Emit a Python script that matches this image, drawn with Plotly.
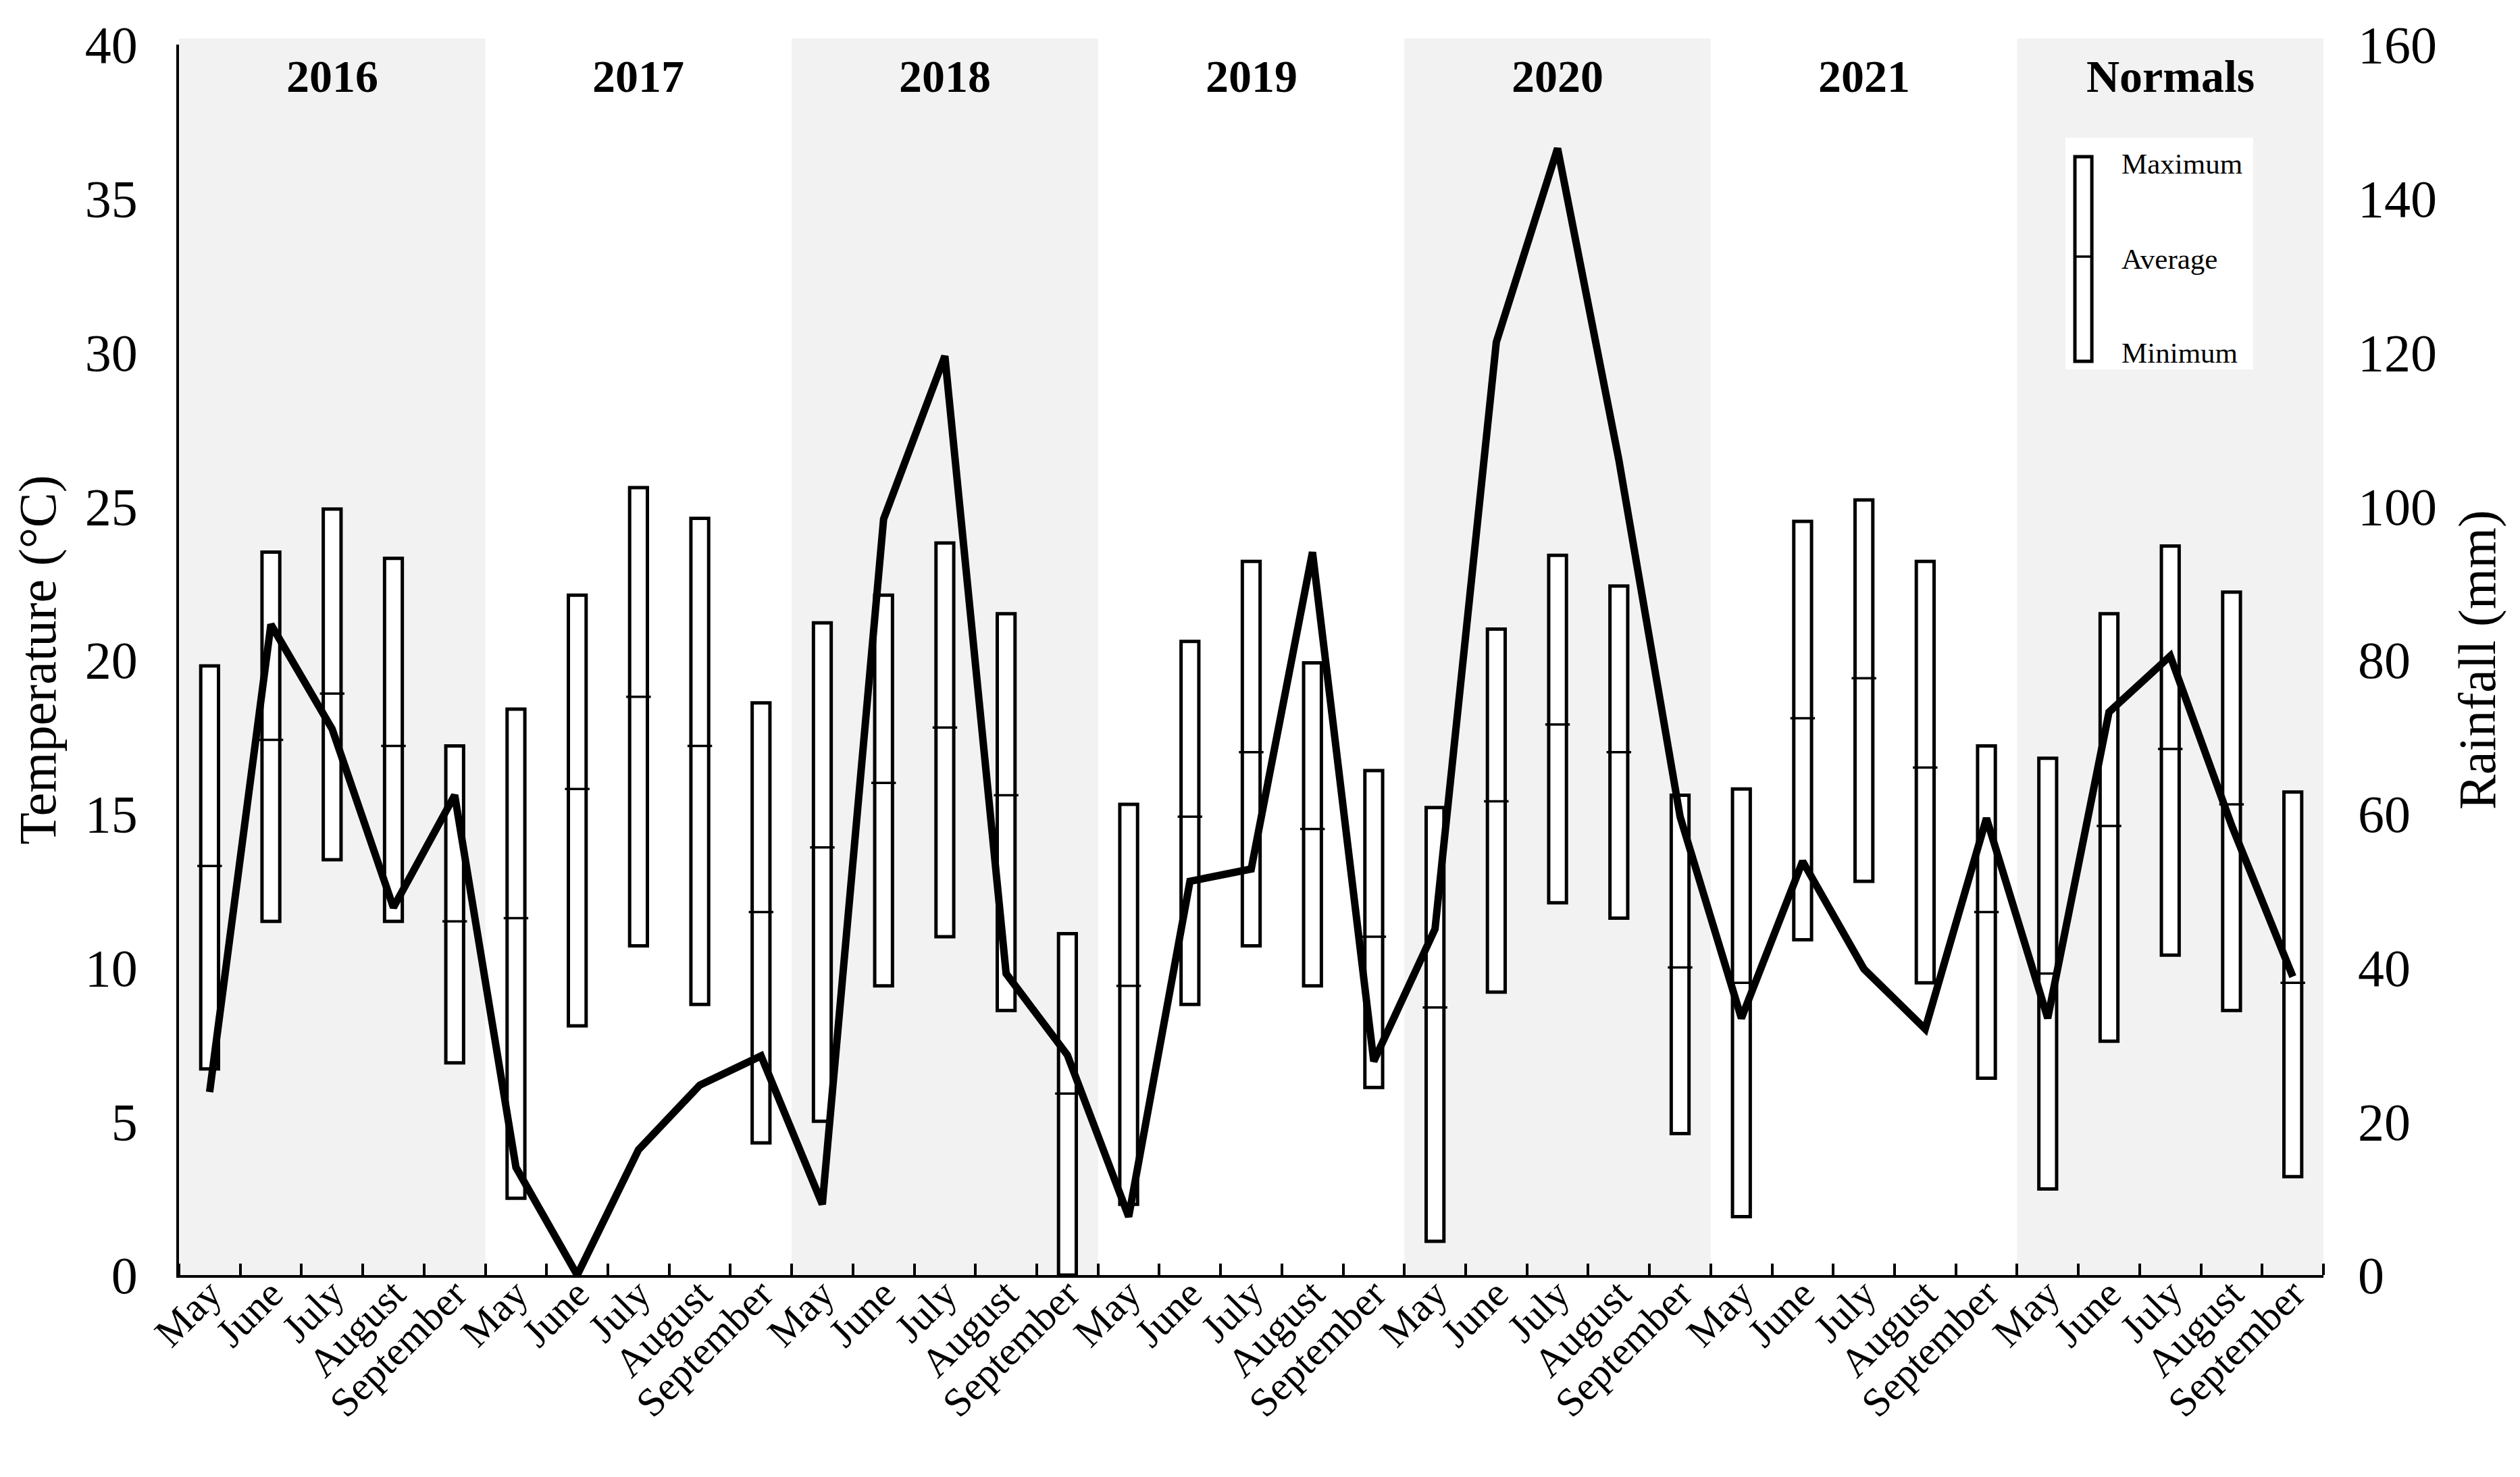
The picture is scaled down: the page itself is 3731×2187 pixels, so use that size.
import plotly.graph_objects as go

# ---------------- data ----------------
groups = ["2016", "2017", "2018", "2019", "2020", "2021", "Normals"]
months = ["May", "June", "July", "August", "September"]

temp_max = [19.8, 23.5, 24.9, 23.3, 17.2,
            18.4, 22.1, 25.6, 24.6, 18.6,
            21.2, 22.1, 23.8, 21.5, 11.1,
            15.3, 20.6, 23.2, 19.9, 16.4,
            15.2, 21.0, 23.4, 22.4, 15.6,
            15.8, 24.5, 25.2, 23.2, 17.2,
            16.8, 21.5, 23.7, 22.2, 15.7]
temp_avg = [13.3, 17.4, 18.9, 17.2, 11.5,
            11.6, 15.8, 18.8, 17.2, 11.8,
            13.9, 16.0, 17.8, 15.6, 5.9,
            9.4, 14.9, 17.0, 14.5, 11.0,
            8.7, 15.4, 17.9, 17.0, 10.0,
            9.5, 18.1, 19.4, 16.5, 11.8,
            9.8, 14.6, 17.1, 15.3, 9.5]
temp_min = [6.7, 11.5, 13.5, 11.5, 6.9,
            2.5, 8.1, 10.7, 8.8, 4.3,
            5.0, 9.4, 11.0, 8.6, 0.0,
            2.3, 8.8, 10.7, 9.4, 6.1,
            1.1, 9.2, 12.1, 11.6, 4.6,
            1.9, 10.9, 12.8, 9.5, 6.4,
            2.8, 7.6, 10.4, 8.6, 3.2]
rainfall = [23.8, 84.6, 71.0, 47.8, 62.4,
            14.0, 0.0, 16.3, 24.7, 28.5,
            9.2, 98.3, 119.5, 39.2, 28.6,
            7.6, 51.2, 52.8, 94.0, 27.8,
            45.0, 121.3, 146.5, 106.0, 59.6,
            33.4, 53.8, 39.8, 32.0, 59.4,
            33.4, 73.2, 80.5, 58.5, 38.8]

shaded_groups = ["2016", "2018", "2020", "Normals"]
legend_labels = ["Maximum", "Average", "Minimum"]

# ---------------- figure ----------------
n_m = len(months)
x = list(range(len(groups) * n_m))
tick_text = months * len(groups)
FONT = "Liberation Serif"

fig = go.Figure()

# min-max boxes
fig.add_trace(go.Bar(
    x=x,
    y=[hi - lo for hi, lo in zip(temp_max, temp_min)],
    base=temp_min,
    width=0.29,
    marker=dict(color="white", line=dict(color="black", width=5)),
    showlegend=False,
    yaxis="y",
))
# average marks
fig.add_trace(go.Scatter(
    x=x, y=temp_avg, mode="markers",
    marker=dict(symbol="line-ew", size=26, color="black",
                line=dict(color="black", width=3.5)),
    showlegend=False, yaxis="y",
))
# rainfall line
fig.add_trace(go.Scatter(
    x=x, y=rainfall, mode="lines",
    line=dict(color="black", width=11),
    showlegend=False, yaxis="y2",
))

shapes = []
annotations = []
for gi, g in enumerate(groups):
    x0 = gi * n_m - 0.5
    x1 = x0 + n_m
    if g in shaded_groups:
        shapes.append(dict(type="rect", xref="x", yref="paper",
                           x0=x0, x1=x1, y0=0, y1=1.005,
                           fillcolor="#f2f2f2", line=dict(width=0),
                           layer="below"))
    annotations.append(dict(x=gi * n_m + (n_m - 1) / 2, y=0.974,
                            xref="x", yref="paper", text=f"<b>{g}</b>",
                            showarrow=False, yanchor="middle",
                            font=dict(family=FONT, size=68, color="black")))

# legend drawn in the Normals panel
shapes.append(dict(type="rect", xref="paper", yref="paper",
                   x0=0.8797, x1=0.9672, y0=0.736, y1=0.9243,
                   fillcolor="white", line=dict(width=0), layer="above"))
shapes.append(dict(type="rect", xref="paper", yref="paper",
                   x0=0.8841, x1=0.8920, y0=0.7426, y1=0.9089,
                   fillcolor="white", line=dict(color="black", width=5),
                   layer="above"))
shapes.append(dict(type="line", xref="paper", yref="paper",
                   x0=0.8841, x1=0.8920, y0=0.8277, y1=0.8277,
                   line=dict(color="black", width=3.5), layer="above"))
for lab, ly in zip(legend_labels, [0.9034, 0.8260, 0.7497]):
    annotations.append(dict(x=0.9053, y=ly, xref="paper", yref="paper",
                            text=lab, showarrow=False, xanchor="left",
                            yanchor="middle",
                            font=dict(family=FONT, size=43, color="black")))

fig.update_layout(
    width=3731, height=2187,
    margin=dict(l=257, r=299, t=58, b=307),
    plot_bgcolor="white", paper_bgcolor="white",
    font=dict(family=FONT, color="black", size=76),
    barmode="overlay",
    shapes=shapes, annotations=annotations,
    showlegend=False,
    xaxis=dict(
        range=[-0.5, len(x) - 0.5],
        tickmode="array", tickvals=x, ticktext=tick_text,
        tickangle=-45, ticks="", showgrid=False, zeroline=False,
        showline=True, linecolor="black", linewidth=3.5,
        tickfont=dict(family=FONT, size=60, color="black"),
        ticklabelstandoff=-35,
        minor=dict(tickmode="array",
                   tickvals=[i - 0.5 for i in range(len(x) + 1)],
                   ticks="inside", ticklen=17, tickwidth=3.5,
                   tickcolor="black", showgrid=False),
    ),
    yaxis=dict(
        range=[0, 40], dtick=5, tick0=0, showgrid=False, zeroline=False,
        showline=True, linecolor="black", linewidth=3.5, ticks="",
        tickfont=dict(family=FONT, size=78, color="black"),
        ticklabelstandoff=42,
        title=dict(text="Temperature (°C)",
                   font=dict(family=FONT, size=78, color="black"),
                   standoff=18),
    ),
    yaxis2=dict(
        range=[0, 160], dtick=20, tick0=0, overlaying="y", side="right",
        showgrid=False, zeroline=False, showline=False, ticks="",
        tickfont=dict(family=FONT, size=78, color="black"),
        ticklabelstandoff=50,
        title=dict(text="Rainfall (mm)",
                   font=dict(family=FONT, size=78, color="black"),
                   standoff=32),
    ),
)

fig.write_html("out.html")
